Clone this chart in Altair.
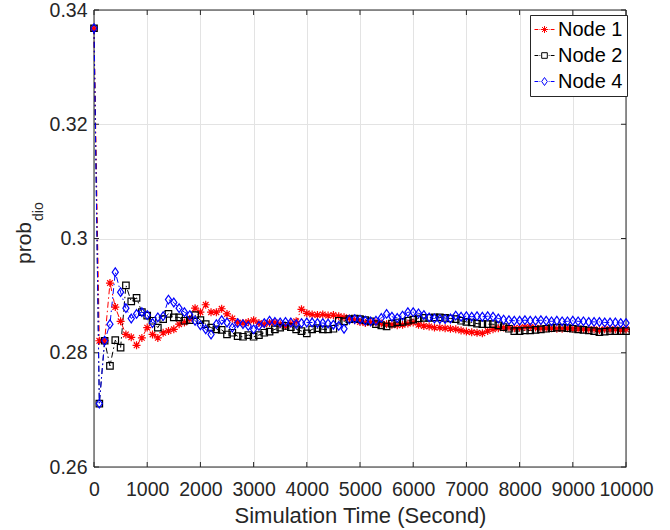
import altair as alt
import pandas as pd

# ---------------- data ----------------
time_s = list(range(0, 10001, 100))

node1 = [0.3368, 0.2821, 0.2821, 0.2922, 0.2880, 0.2855, 0.2832, 0.2827, 0.2813, 0.2826,
         0.2844, 0.2832, 0.2826, 0.2835, 0.2838, 0.2841, 0.2850, 0.2853, 0.2859, 0.2878,
         0.2871, 0.2884, 0.2871, 0.2871, 0.2877, 0.2868, 0.2860, 0.2853, 0.2852, 0.2854,
         0.2857, 0.2852, 0.2850, 0.2852, 0.2853, 0.2850, 0.2847, 0.2851, 0.2855, 0.2876,
         0.2869, 0.2867, 0.2866, 0.2867, 0.2865, 0.2866, 0.2864, 0.2862, 0.2860, 0.2857,
         0.2854, 0.2852, 0.2853, 0.2853, 0.2851, 0.2850, 0.2849, 0.2848, 0.2849, 0.2851,
         0.2853, 0.2849, 0.2847, 0.2846, 0.2844, 0.2844, 0.2843, 0.2842, 0.2841, 0.2839,
         0.2837, 0.2836, 0.2835, 0.2834, 0.2838, 0.2841, 0.2843, 0.2844, 0.2844, 0.2843,
         0.2844, 0.2845, 0.2845, 0.2844, 0.2843, 0.2843, 0.2843, 0.2842, 0.2842, 0.2843,
         0.2842, 0.2842, 0.2841, 0.2841, 0.2841, 0.2840, 0.2841, 0.2841, 0.2841, 0.2840,
         0.2841]

node2 = [0.3368, 0.2711, 0.2821, 0.2777, 0.2822, 0.2809, 0.2918, 0.2890, 0.2896, 0.2871,
         0.2865, 0.2856, 0.2844, 0.2859, 0.2868, 0.2862, 0.2862, 0.2856, 0.2857, 0.2866,
         0.2857, 0.2850, 0.2844, 0.2841, 0.2840, 0.2832, 0.2835, 0.2829, 0.2828, 0.2831,
         0.2828, 0.2831, 0.2835, 0.2837, 0.2841, 0.2844, 0.2847, 0.2845, 0.2841, 0.2838,
         0.2834, 0.2841, 0.2843, 0.2841, 0.2841, 0.2842, 0.2856, 0.2855, 0.2859, 0.2860,
         0.2859, 0.2857, 0.2855, 0.2850, 0.2848, 0.2846, 0.2851, 0.2853, 0.2854, 0.2856,
         0.2858, 0.2860, 0.2861, 0.2861, 0.2862, 0.2862, 0.2861, 0.2860, 0.2859, 0.2856,
         0.2854, 0.2853, 0.2851, 0.2850, 0.2850, 0.2850, 0.2848, 0.2845, 0.2842, 0.2838,
         0.2838, 0.2839, 0.2839, 0.2840, 0.2841, 0.2842, 0.2843, 0.2844, 0.2844, 0.2843,
         0.2842, 0.2841, 0.2840, 0.2839, 0.2838, 0.2836, 0.2837, 0.2838, 0.2838, 0.2838,
         0.2838]

node4 = [0.3368, 0.2711, 0.2821, 0.2850, 0.2941, 0.2906, 0.2878, 0.2860, 0.2868, 0.2871,
         0.2866, 0.2852, 0.2862, 0.2864, 0.2893, 0.2888, 0.2878, 0.2871, 0.2866, 0.2856,
         0.2848, 0.2841, 0.2832, 0.2850, 0.2857, 0.2853, 0.2844, 0.2852, 0.2850, 0.2847,
         0.2841, 0.2847, 0.2852, 0.2856, 0.2854, 0.2853, 0.2854, 0.2853, 0.2850, 0.2852,
         0.2853, 0.2853, 0.2852, 0.2852, 0.2851, 0.2849, 0.2847, 0.2842, 0.2858, 0.2859,
         0.2858, 0.2856, 0.2855, 0.2856, 0.2861, 0.2868, 0.2863, 0.2861, 0.2865, 0.2871,
         0.2871, 0.2869, 0.2866, 0.2862, 0.2860, 0.2859, 0.2859, 0.2860, 0.2865, 0.2863,
         0.2864, 0.2863, 0.2864, 0.2863, 0.2864, 0.2863, 0.2860, 0.2858, 0.2857, 0.2856,
         0.2856, 0.2857, 0.2856, 0.2856, 0.2857, 0.2856, 0.2855, 0.2856, 0.2855, 0.2855,
         0.2856, 0.2855, 0.2855, 0.2854, 0.2854, 0.2854, 0.2853, 0.2853, 0.2853, 0.2852,
         0.2852]

series_names = ["Node 1", "Node 2", "Node 4"]
series_colors = ["#ff0000", "#000000", "#0000ff"]
x_ticks = list(range(0, 10001, 1000))
y_ticks = [0.26, 0.28, 0.30, 0.32, 0.34]

rows = []
for name, vals in zip(series_names, [node1, node2, node4]):
    for t, v in zip(time_s, vals):
        rows.append({"time": t, "prob": v, "series": name})
df = pd.DataFrame(rows)
xt_df = pd.DataFrame({"time": x_ticks})
yt_df = pd.DataFrame({"prob": y_ticks})

# ---------------- styling ----------------
FONT = "Liberation Sans"
TXT = "#262626"
W, H = 532, 457
TICK = 5

STAR = "M0,-1L0,1M-1,0L1,0M-0.7,-0.7L0.7,0.7M-0.7,0.7L0.7,-0.7"
SQUARE = "M-1,-1H1V1H-1Z"
DIAMOND = "M0,-1L0.7,0L0,1L-0.7,0Z"
marker_paths = [STAR, SQUARE, DIAMOND]
marker_sizes = [64, 42, 76]

DASH = "M-1,0H-0.62M-0.5,0H-0.42M0.42,0H0.5M0.62,0H1"
legend_paths = [
    DASH + "M0,-0.35L0,0.35M-0.35,0L0.35,0M-0.25,-0.25L0.25,0.25M-0.25,0.25L0.25,-0.25",
    DASH + "M-0.28,-0.28H0.28V0.28H-0.28Z",
    DASH + "M0,-0.4L0.28,0L0,0.4L-0.28,0Z",
]

x_scale = alt.Scale(domain=[0, 10000], nice=False)
y_scale = alt.Scale(domain=[0.26, 0.34], nice=False, zero=False)
x_enc = alt.X("time:Q", scale=x_scale,
              axis=alt.Axis(values=x_ticks, format="d", title="Simulation Time (Second)",
                            labelPadding=13, titlePadding=7))
y_enc = alt.Y("prob:Q", scale=y_scale,
              axis=alt.Axis(values=y_ticks, format=".2~f", title=None, labelPadding=7))
color_scale = alt.Scale(domain=series_names, range=series_colors)

legend_kw = dict(title=None, orient="none", legendX=436, legendY=5, padding=4,
                 labelFontSize=20, labelFont=FONT, labelColor="#000000",
                 symbolSize=400, symbolStrokeWidth=1, rowPadding=5, labelOffset=3,
                 strokeColor=TXT, fillColor="white", cornerRadius=0)
color_enc = alt.Color("series:N", scale=color_scale, legend=alt.Legend(**legend_kw))

base = alt.Chart(df)

legend_layer = base.transform_filter("false").mark_point(
    filled=False, size=400, strokeWidth=1, opacity=1
).encode(
    x=x_enc, y=y_enc,
    color=color_enc,
    shape=alt.Shape("series:N", scale=alt.Scale(domain=series_names, range=legend_paths),
                    legend=alt.Legend(**legend_kw)),
)

# inward tick marks (MATLAB style box axes)
tick_style = dict(color=TXT, strokeWidth=1)
xt_bottom = alt.Chart(xt_df).mark_rule(**tick_style).encode(
    x=alt.X("time:Q", scale=x_scale), y=alt.value(H), y2=alt.value(H - TICK))
xt_top = alt.Chart(xt_df).mark_rule(**tick_style).encode(
    x=alt.X("time:Q", scale=x_scale), y=alt.value(0), y2=alt.value(TICK))
yt_left = alt.Chart(yt_df).mark_rule(**tick_style).encode(
    y=alt.Y("prob:Q", scale=y_scale), x=alt.value(0), x2=alt.value(TICK))
yt_right = alt.Chart(yt_df).mark_rule(**tick_style).encode(
    y=alt.Y("prob:Q", scale=y_scale), x=alt.value(W), x2=alt.value(W - TICK))

frame = alt.Chart(xt_df.head(1)).mark_rect(filled=False, stroke=TXT, strokeWidth=1).encode(
    x=alt.value(0), x2=alt.value(W), y=alt.value(0), y2=alt.value(H))

lines = base.mark_line(strokeWidth=1, strokeDash=[6, 3, 1.5, 3]).encode(
    x=x_enc, y=y_enc, color=color_enc, detail="series:N",
)

point_layers = []
for name, path, sz in zip(series_names, marker_paths, marker_sizes):
    point_layers.append(
        base.transform_filter(alt.datum.series == name)
        .mark_point(shape=path, size=sz, filled=False, strokeWidth=1.2, opacity=1)
        .encode(x=x_enc, y=y_enc, color=color_enc)
    )

ytitle_main = alt.Chart(pd.DataFrame({"label": ["prob"]})).mark_text(
    angle=270, align="center", baseline="alphabetic", fontSize=21, font=FONT, color=TXT
).encode(x=alt.value(-63), y=alt.value(233), text="label:N")

ytitle_sub = alt.Chart(pd.DataFrame({"label": ["dio"]})).mark_text(
    angle=270, align="left", baseline="alphabetic", fontSize=14, font=FONT, color=TXT
).encode(x=alt.value(-51), y=alt.value(211), text="label:N")

chart = alt.layer(
    legend_layer, xt_bottom, xt_top, yt_left, yt_right, frame,
    lines, *point_layers, ytitle_main, ytitle_sub
).properties(
    width=W, height=H,
    padding={"left": 94, "top": 10, "right": 44, "bottom": 63},
    autosize=alt.AutoSizeParams(type="none"),
    background="white",
).configure_view(
    stroke=TXT, strokeWidth=1, strokeOpacity=1
).configure_axis(
    grid=True, gridColor="#e3e3e3", gridWidth=1, domain=False, ticks=False, tickSize=0,
    labelFont=FONT, labelFontSize=19.5, labelColor=TXT, labelFlush=False, labelOverlap=False,
    titleFont=FONT, titleFontSize=22, titleColor=TXT, titleFontWeight="normal",
)

chart.save("out.html", embed_options={"renderer": "svg", "actions": False})
